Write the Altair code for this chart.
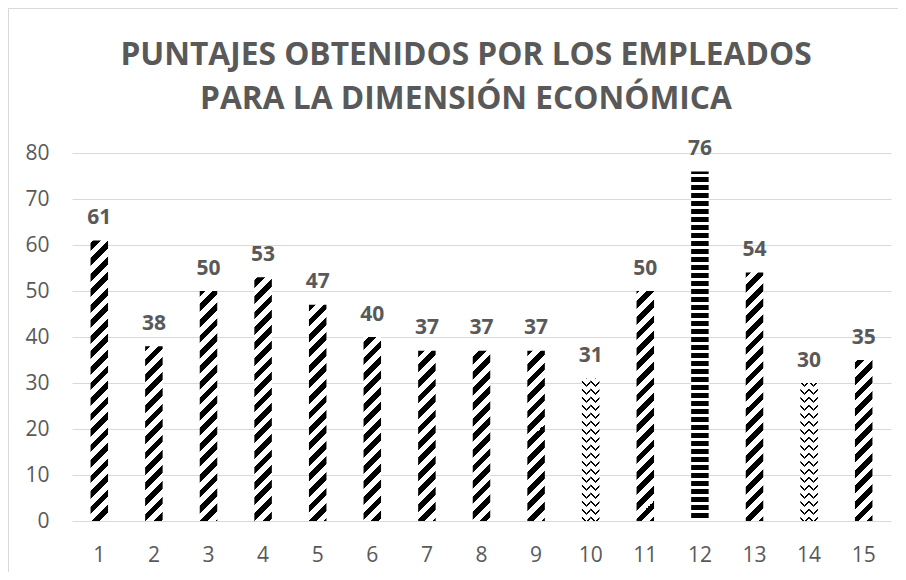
import math
import altair as alt
import pandas as pd

# ---------------- data ----------------
empleados = list(range(1, 16))
puntajes = [61, 38, 50, 53, 47, 40, 37, 37, 37, 31, 50, 76, 54, 30, 35]
titulo = ["PUNTAJES OBTENIDOS POR LOS EMPLEADOS", "PARA LA DIMENSIÓN ECONÓMICA"]
y_ticks = [0, 10, 20, 30, 40, 50, 60, 70, 80]

# ---------------- style ----------------
TRAMA = {10: "zigzag", 12: "horizontal", 14: "zigzag"}  # others: diagonal
CHART_W, CHART_H = 890, 564
PAD_L, PAD_T = 64, 145
PLOT_W, PLOT_H = 819, 368
Y_MAX = 80
BAR_W = 17.5
GRAY = "#595959"
GRID = "#d9d9d9"
FONT = "Open Sans"
TITLE_X = 394       # title centre, relative to plot area
TITLE_Y = -88       # first title baseline, relative to plot area

band = PLOT_W / len(empleados)


def ypix(v):
    return PLOT_H * (1 - v / Y_MAX)


def stripe_gradient(X0, Y0, w, h, m, P, f, anchor):
    """Linear gradient (bbox units) drawing stripes s=(Y+m*(X-anchor))/P."""
    phi = (Y0 + m * (X0 - anchor)) / P
    a = m * w / P
    b = h / P
    cs = [phi, phi + a, phi + b, phi + a + b]
    s0, s1 = min(cs), max(cs)
    span = s1 - s0
    A, B, C = a / span, b / span, (phi - s0) / span
    n2 = A * A + B * B
    x1, y1 = -C * A / n2, -C * B / n2
    x2, y2 = x1 + A / n2, y1 + B / n2
    pts = [s0]
    k = math.floor(s0)
    while k <= s1 + 1:
        for e in (k, k + f):
            if s0 < e < s1:
                pts.append(e)
        k += 1
    pts.append(s1)
    pts = sorted(pts)
    stops = []
    for lo, hi in zip(pts[:-1], pts[1:]):
        mid = (lo + hi) / 2
        col = "#000000" if (mid - math.floor(mid)) < f else "#ffffff"
        stops.append({"offset": round((lo - s0) / span, 6), "color": col})
        stops.append({"offset": round((hi - s0) / span, 6), "color": col})
    return {"gradient": "linear", "x1": x1, "y1": y1, "x2": x2, "y2": y2,
            "stops": stops}


df = pd.DataFrame({"empleado": empleados, "puntaje": puntajes})

x_enc = alt.X(
    "empleado:O", sort=empleados,
    scale=alt.Scale(paddingInner=0, paddingOuter=0),
    axis=alt.Axis(title=None, labelAngle=0, domain=False, ticks=False, tickSize=0,
                  grid=False, labelPadding=23.5, labelFont=FONT, labelFontSize=21,
                  labelColor=GRAY),
)
y_enc = alt.Y(
    "puntaje:Q", scale=alt.Scale(domain=[0, Y_MAX], nice=False),
    axis=alt.Axis(title=None, values=y_ticks, domain=False, ticks=False, tickSize=0,
                  grid=True, gridColor=GRID, gridWidth=1, labelPadding=23,
                  labelFont=FONT, labelFontSize=21, labelColor=GRAY),
)
base = alt.Chart(df).encode(x=x_enc, y=y_enc)

layers = []
for i, v in zip(empleados, puntajes):
    cx = (i - 0.5) * band
    Y0 = ypix(v)
    h = PLOT_H - Y0
    sel = base.transform_filter(alt.datum.empleado == i)
    kind = TRAMA.get(i, "diagonal")
    if kind == "diagonal":
        g = stripe_gradient(cx - BAR_W / 2, Y0, BAR_W, h, 1, 15.5, 0.5, 0)
        layers.append(sel.mark_bar(size=BAR_W, color=g))
    elif kind == "horizontal":
        g = stripe_gradient(cx - BAR_W / 2, Y0, BAR_W, h, 0, 8, 5 / 8, 0)
        layers.append(sel.mark_bar(size=BAR_W, color=g))
    else:
        w4 = BAR_W / 4
        for j in range(4):
            X0 = cx - BAR_W / 2 + j * w4
            m = -1 if j % 2 == 0 else 1
            anchor = X0 + w4 if m == -1 else X0
            g = stripe_gradient(X0, Y0, w4, h, m, 8, 0.25, anchor)
            off = -BAR_W / 2 + (j + 0.5) * w4
            layers.append(sel.mark_bar(size=w4, xOffset=off, color=g))

labels = base.mark_text(dy=-16.5, baseline="alphabetic", font=FONT, fontSize=21,
                        fontWeight="bold", color=GRAY).encode(text="puntaje:Q")

frame_df = pd.DataFrame({"k": [0]})
border_left = alt.Chart(frame_df).mark_rule(color=GRID, strokeWidth=1).encode(
    x=alt.value(-PAD_L + 0.5), y=alt.value(-PAD_T), y2=alt.value(CHART_H - PAD_T))
border_top = alt.Chart(frame_df).mark_rule(color=GRID, strokeWidth=1).encode(
    x=alt.value(-PAD_L), x2=alt.value(CHART_W - PAD_L), y=alt.value(-PAD_T + 0.5))

title_text = alt.Chart(frame_df).mark_text(
    text=titulo, font=FONT, fontSize=31.7, fontWeight="bold", color=GRAY,
    lineHeight=44, align="center", baseline="alphabetic",
).encode(x=alt.value(TITLE_X), y=alt.value(TITLE_Y))

chart = alt.layer(*layers, labels, border_left, border_top, title_text).properties(
    width=PLOT_W, height=PLOT_H,
    autosize=alt.AutoSizeParams(type="none"),
    padding={"left": PAD_L, "top": PAD_T, "right": CHART_W - PAD_L - PLOT_W,
             "bottom": CHART_H - PAD_T - PLOT_H},
).configure(background="white").configure_view(stroke="transparent", strokeWidth=0)

chart.save("out.html", embed_options={"renderer": "svg", "actions": False})
